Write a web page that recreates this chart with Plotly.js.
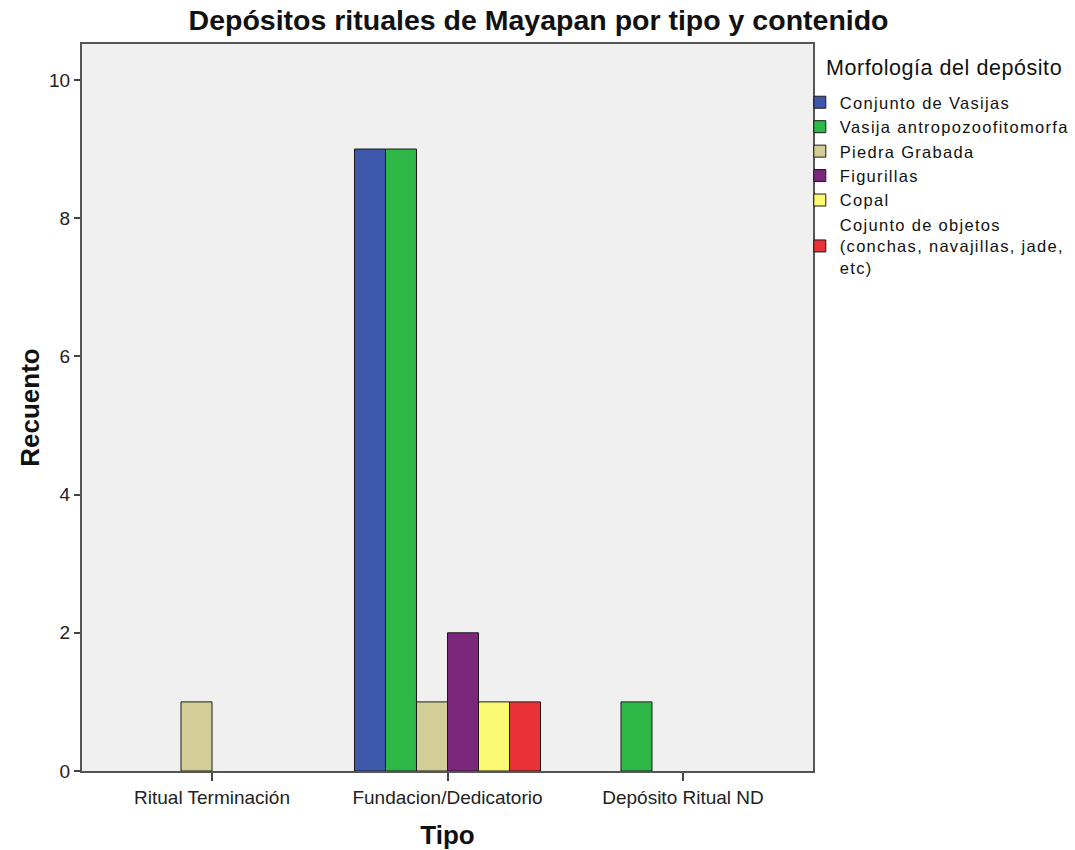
<!DOCTYPE html>
<html>
<head>
<meta charset="utf-8">
<script src="https://cdn.plot.ly/plotly-3.0.1.min.js"></script>
<style>
html,body{margin:0;padding:0;background:#fff;}
#chart{width:1075px;height:850px;}
.legendtext{letter-spacing:1.3px;}
.annotation-text{letter-spacing:0.55px;}
</style>
</head>
<body>
<div id="chart"></div>
<script>
const categories = ["Ritual Terminación", "Fundacion/Dedicatorio", "Depósito Ritual ND"];
const seriesNames = [
  "Conjunto de Vasijas",
  "Vasija antropozoofitomorfa",
  "Piedra Grabada",
  "Figurillas",
  "Copal",
  "Cojunto de objetos<br>(conchas, navajillas, jade,<br>etc)"
];
const conjuntoVasijas = [null, 9, null];
const vasijaAntropo = [null, 9, 1];
const piedraGrabada = [1, 1, null];
const figurillas = [null, 2, null];
const copal = [null, 1, null];
const cojuntoObjetos = [null, 1, null];
const seriesValues = [conjuntoVasijas, vasijaAntropo, piedraGrabada, figurillas, copal, cojuntoObjetos];
const colors = ["#3e58ac", "#2eb848", "#d3ce97", "#7b277c", "#fbf873", "#e93238"];
const yTicks = [0, 2, 4, 6, 8, 10];
const legendTitle = "Morfología del depósito";

const traces = seriesNames.map((name, i) => ({
  type: "bar",
  name: name,
  x: categories,
  y: seriesValues[i],
  marker: {color: colors[i], line: {color: "#1a1a1a", width: 1}},
  hoverinfo: "x+y+name"
}));

const fontFam = "Liberation Sans, Arial, sans-serif";
const layout = {
  width: 1075,
  height: 850,
  margin: {l: 82, r: 262, t: 44, b: 79, autoexpand: false},
  paper_bgcolor: "#ffffff",
  plot_bgcolor: "#f0f0f0",
  barmode: "group",
  bargap: 0.21,
  bargroupgap: 0,
  font: {family: fontFam, color: "#222"},
  title: {
    text: "<b>Depósitos rituales de Mayapan por tipo y contenido</b>",
    font: {family: fontFam, size: 28.5, color: "#111"},
    x: 0.501, xref: "container", xanchor: "center",
    y: 0.976, yanchor: "middle"
  },
  xaxis: {
    type: "category",
    range: [-0.552, 2.552],
    showline: true, mirror: true, linecolor: "#555", linewidth: 2,
    ticks: "outside", ticklen: 8, tickcolor: "#444", tickwidth: 2,
    tickfont: {family: fontFam, size: 19, color: "#222"},
    showgrid: false, zeroline: false,
    title: {text: "<b>Tipo</b>", font: {family: fontFam, size: 26, color: "#111"}, standoff: 19}
  },
  yaxis: {
    range: [0, 10.52],
    tickvals: yTicks,
    ticktext: yTicks.map(String),
    showline: true, mirror: true, linecolor: "#555", linewidth: 2,
    ticks: "outside", ticklen: 6, tickcolor: "#444", tickwidth: 2,
    tickfont: {family: fontFam, size: 19, color: "#222"},
    showgrid: false, zeroline: false,
    title: {text: "<b>Recuento</b>", font: {family: fontFam, size: 26, color: "#111"}, standoff: 2}
  },
  legend: {
    xref: "container", yref: "container",
    x: 0.744, xanchor: "left",
    y: 0.9, yanchor: "top",
    bgcolor: "rgba(0,0,0,0)",
    font: {family: fontFam, size: 16.5, color: "#111"},
    tracegroupgap: 0,
    itemwidth: 30,
    traceorder: "normal",
    valign: "middle"
  },
  annotations: [{
    text: legendTitle,
    xref: "paper", yref: "paper",
    x: 1.0155, xanchor: "left",
    y: 0.967, yanchor: "middle",
    showarrow: false,
    font: {family: fontFam, size: 21.5, color: "#111"}
  }],
  showlegend: true
};

Plotly.newPlot("chart", traces, layout, {displayModeBar: false, staticPlot: true});
</script>
</body>
</html>
